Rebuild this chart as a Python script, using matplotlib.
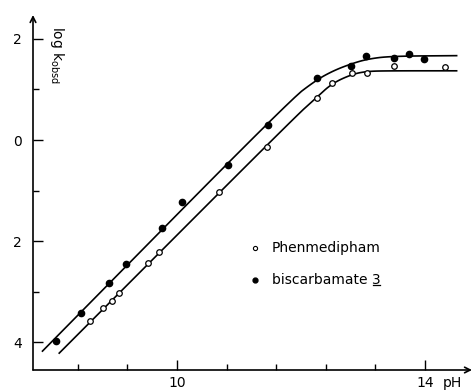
import numpy as np
import matplotlib.pyplot as plt
from matplotlib.ticker import FixedLocator

ph_open = [8.59, 8.80, 8.95, 9.07, 9.53, 9.71, 10.67, 11.45, 12.25, 12.50, 12.83, 13.07, 13.50, 14.32]
logk_open = [-3.58, -3.33, -3.18, -3.02, -2.44, -2.21, -1.02, -0.14, 0.83, 1.13, 1.32, 1.33, 1.47, 1.44]
ph_filled = [8.05, 8.45, 8.91, 9.18, 9.75, 10.08, 10.83, 11.46, 12.25, 12.80, 13.05, 13.50, 13.74, 13.98]
logk_filled = [-3.97, -3.42, -2.84, -2.46, -1.74, -1.23, -0.50, 0.30, 1.22, 1.47, 1.67, 1.63, 1.71, 1.61]

# fitted curves, traced
fit_ph_filled = [7.83, 11.82, 12.25, 12.52, 12.79, 13.06, 13.44, 14.51]
fit_logk_filled = [-4.18, 0.79, 1.19, 1.37, 1.50, 1.60, 1.66, 1.67]
fit_ph_open = [8.10, 11.88, 12.25, 12.50, 12.82, 13.06, 13.40, 14.51]
fit_logk_open = [-4.22, 0.43, 0.84, 1.12, 1.30, 1.36, 1.37, 1.37]

ytick_major = [2, 0, -2, -4]
ytick_labels = ["2", "0", "2", "4"]
ytick_minor = [1, -1, -3]
xtick_major = [10, 14]
xtick_labels = ["10", "14"]
xtick_minor = [8.4, 9.2, 10.8, 11.6, 12.4, 13.2]


def smooth(x, y, n=3):
    # chaikin corner cutting, keeps end points
    p = np.column_stack([x, y])
    for _ in range(n):
        q = 0.75 * p[:-1] + 0.25 * p[1:]
        r = 0.25 * p[:-1] + 0.75 * p[1:]
        mid = np.empty((2 * len(q), 2))
        mid[0::2] = q
        mid[1::2] = r
        p = np.vstack([p[:1], mid, p[-1:]])
    return p[:, 0], p[:, 1]


plt.rcParams['font.family'] = 'DejaVu Sans'
fig = plt.figure(figsize=(4.73, 3.91), dpi=100)
ax = fig.add_axes([33 / 473, 21 / 391, 439 / 473, 355 / 391])
ax.set_xlim(7.677, 14.758)
ax.set_ylim(-4.554, 2.475)

for x, y in [(fit_ph_filled, fit_logk_filled), (fit_ph_open, fit_logk_open)]:
    sx, sy = smooth(x, y)
    ax.plot(sx, sy, color='black', lw=1.2)

ax.plot(ph_open, logk_open, 'o', ms=4, mfc='white', mec='black', mew=0.9, ls='none')
ax.plot(ph_filled, logk_filled, 'o', ms=4.5, color='black', ls='none')

for s in ax.spines.values():
    s.set_visible(False)
ax.annotate("", xy=(1, 0), xytext=(0, 0), xycoords='axes fraction',
            arrowprops=dict(arrowstyle='->', lw=1.2, color='black', shrinkA=0, shrinkB=0))
ax.annotate("", xy=(0, 1), xytext=(0, 0), xycoords='axes fraction',
            arrowprops=dict(arrowstyle='->', lw=1.2, color='black', shrinkA=0, shrinkB=0))

ax.yaxis.set_major_locator(FixedLocator(ytick_major))
ax.set_yticklabels(ytick_labels)
ax.yaxis.set_minor_locator(FixedLocator(ytick_minor))
ax.xaxis.set_major_locator(FixedLocator(xtick_major))
ax.set_xticklabels(xtick_labels)
ax.xaxis.set_minor_locator(FixedLocator(xtick_minor))
ax.tick_params(which='major', direction='in', length=7, width=1, labelsize=10)
ax.tick_params(which='minor', direction='in', length=4, width=1)
ax.tick_params(axis='y', which='major', pad=8)
ax.tick_params(axis='x', which='major', pad=4)

fig.text(443 / 473, 1 - 383 / 391, "pH", fontsize=10, va='center', ha='left')
ax.text(0.035, 0.97, r"log k$_{\rm obsd}$", rotation=-90, fontsize=10,
        transform=ax.transAxes, va='top', ha='left')

# legend by hand
ax.plot([11.26], [-2.14], 'o', ms=3, mfc='white', mec='black', mew=0.8)
ax.text(11.53, -2.14, "Phenmedipham", fontsize=10, va='center', ha='left')
ax.plot([11.26], [-2.77], 'o', ms=3.5, color='black')
t3 = ax.text(11.53, -2.77, "biscarbamate 3", fontsize=10, va='center', ha='left')

fig.canvas.draw()
bb = t3.get_window_extent()
inv = ax.transData.inverted()
x0, y0 = inv.transform((bb.x1 - 7, bb.y0 + 1.5))
x1 = inv.transform((bb.x1, bb.y0))[0]
ax.plot([x0, x1], [y0, y0], color='black', lw=0.9)

fig.savefig("out.png", dpi=100)
